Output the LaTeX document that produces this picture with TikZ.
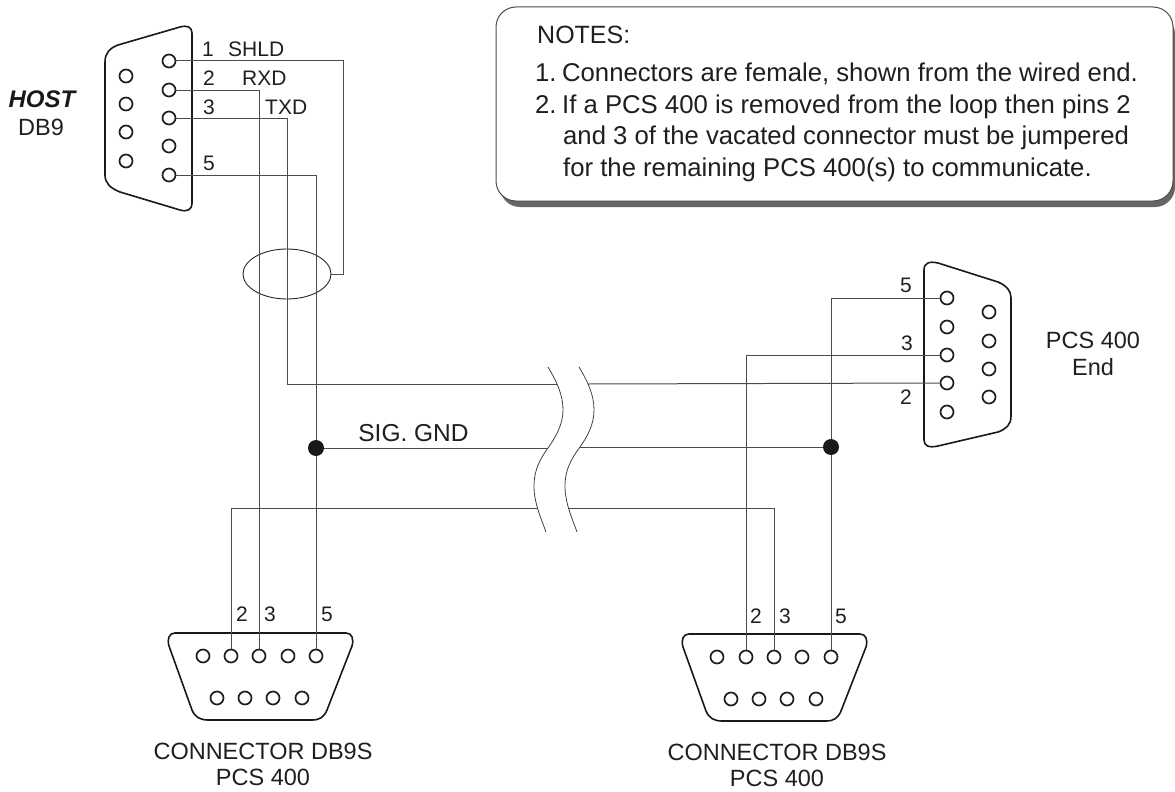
\documentclass[tikz,border=0pt]{standalone}
\usepackage{fontspec}
\setmainfont{Liberation Sans}
\usetikzlibrary{shapes.geometric}
\tikzset{
  pinhole/.style={circle,draw=black!88,line width=1.7pt,minimum size=13pt,inner sep=0pt,fill=white},
  shell/.style={draw=black!90,line width=1.6pt,line join=round},
  wire/.style={draw=black!70,line width=1pt},
  brk/.style={draw=black!75,line width=0.8pt},
  dotn/.style={circle,fill=black!90,minimum size=16pt,inner sep=0pt},
  lab/.style={font=\fontsize{21}{21}\selectfont,text=black!88,inner sep=0pt},
  captxt/.style={font=\fontsize{23.5}{26}\selectfont,text=black!88,align=center,inner sep=0pt},
  note/.style={font=\fontsize{25.7}{25}\selectfont,text=black!88,anchor=west,inner sep=0pt}
}
\begin{document}
\begin{tikzpicture}[x=1pt,y=-1pt]
\useasboundingbox (0,0) rectangle (1175,792);
% notes box
\fill[black!60,rounded corners=20pt] (500,14) rectangle (1175,207);
\draw[fill=white,draw=black!70,line width=1pt,rounded corners=20pt] (496,7) rectangle (1173,201);
\node[note,font=\fontsize{25}{25}\selectfont] (n0) at (537,35) {NOTES:};
\node[note] (n1) at (535,74) {1.\hspace{-4pt} Connectors are female, shown from the wired end.};
\node[note] (n2) at (535,107) {2.\hspace{-4pt} If a PCS 400 is removed from the loop then pins 2};
\node[note] (n3) at (563,138) {and 3 of the vacated connector must be jumpered};
\node[note] (n4) at (563,170) {for the remaining PCS 400(s) to communicate.};
% shells
\draw[shell] (105,170) -- (105,62) .. controls (105,53) and (110,48) .. (118,45) -- (180,27) .. controls (187,25) and (192,27) .. (192,33) -- (192,203) .. controls (192,210) and (187,212) .. (180,210) -- (120,192) .. controls (110,188) and (105,183) .. (105,175) -- cycle;
\draw[shell] (924,270) .. controls (924,263) and (929,261) .. (938,263) -- (998,282) .. controls (1007,286) and (1011,291) .. (1011,298) -- (1011,416) .. controls (1011,425) and (1006,429) .. (998,432) -- (938,446) .. controls (929,448) and (924,446) .. (924,440) -- cycle;
\draw[shell] (175,633) -- (346,633) .. controls (352,633) and (354,639) .. (352,646) -- (327,710) .. controls (324,717) and (320,720) .. (312,720) -- (208,720) .. controls (200,720) and (195,717) .. (192,710) -- (169,646) .. controls (167,639) and (169,633) .. (175,633) -- cycle;
\draw[shell] (689,634) -- (860,634) .. controls (866,634) and (868,640) .. (866,647) -- (841,711) .. controls (838,718) and (834,721) .. (826,721) -- (722,721) .. controls (714,721) and (709,718) .. (706,711) -- (683,647) .. controls (681,640) and (683,634) .. (689,634) -- cycle;
% coordinates
\coordinate (cA) at (343,274);
\coordinate (bTl) at (557,384); \coordinate (bTr) at (588,384);
\coordinate (bGl) at (548,448); \coordinate (bGr) at (580,447);
\coordinate (bRl) at (537,508); \coordinate (bRr) at (568,508);
\coordinate (tc) at (287,384);
\node[dotn] (d1) at (316,448) {};
\node[dotn] (d2) at (831,447) {};
% host pins
\foreach \n/\y in {a/76,b/104,c/132,d/161} \node[pinhole] (hl\n) at (126,\y) {};
\foreach \n/\y in {1/61,2/90,3/118,4/146,5/175} \node[pinhole] (h\n) at (169,\y) {};
% end pins
\foreach \n/\y in {5/298,4/327,3/355,2/383,1/412} \node[pinhole] (e\n) at (947,\y) {};
\foreach \n/\y in {a/312,b/341,c/369,d/397} \node[pinhole] (el\n) at (989,\y) {};
% bottom connectors
\foreach \n/\x in {1/203,2/231,3/259,4/288,5/316} \node[pinhole] (p\n) at (\x,656) {};
\foreach \n/\x in {a/217,b/245,c/273,d/302} \node[pinhole] (pl\n) at (\x,698) {};
\foreach \n/\x in {1/717,2/746,3/774,4/802,5/831} \node[pinhole] (q\n) at (\x,657) {};
\foreach \n/\x in {a/731,b/759,c/787,d/816} \node[pinhole] (ql\n) at (\x,699) {};
% shield
\node[ellipse,draw=black!85,line width=0.9pt,inner sep=0pt,minimum width=88pt,minimum height=50pt] (eln) at (287,274) {};
\draw[wire] (h1.east) -| (cA) -- (eln.east);
% RXD
\draw[wire] (h2.east) -| (p3.north);
% TXD
\draw[wire] (h3.east) -| (tc) -- (bTl);
\draw[wire] (bTr) -- (e2.west);
% ground
\draw[wire] (h5.east) -| (d1.north);
\draw[wire] (d1.south) -- (p5.north);
\draw[wire] (d1.east) -- (bGl);
\draw[wire] (bGr) -- (d2.west);
\draw[wire] (e5.west) -| (d2.north);
\draw[wire] (d2.south) -- (q5.north);
% pin 2 bus
\draw[wire] (p2.north) |- (bRl);
\draw[wire] (bRr) -| (q3.north);
% pcs 3
\draw[wire] (e3.west) -| (q2.north);
% breaks
\draw[brk] (548,367) .. controls (557,382) and (563,395) .. (563,410) .. controls (563,425) and (555,438) .. (548,448) .. controls (540,459) and (534,470) .. (534,486) .. controls (534,503) and (541,518) .. (546,532);
\draw[brk] (579,367) .. controls (588,382) and (594,395) .. (594,410) .. controls (594,425) and (587,437) .. (580,447) .. controls (571,459) and (565,470) .. (565,486) .. controls (565,503) and (572,518) .. (577,532);
% labels
\node[lab] (t1) at (208,49) {1};
\node[lab,anchor=west] (ts) at (228,49) {SHLD};
\node[lab] (t2) at (209,78) {2};
\node[lab,anchor=west] (tr) at (242,78) {RXD};
\node[lab] (t3) at (209,107) {3};
\node[lab,anchor=west] (tt) at (265,107) {TXD};
\node[lab] (t5) at (209,163) {5};
\node[font=\fontsize{24}{24}\selectfont\bfseries\itshape,text=black!90,inner sep=0pt] (host) at (42,99) {HOST};
\node[lab,font=\fontsize{23.5}{24}\selectfont] (db) at (41,127) {DB9};
\node[lab] (r5) at (906,285) {5};
\node[lab] (r3) at (907,343) {3};
\node[lab] (r2) at (906,397) {2};
\node[captxt,font=\fontsize{23.5}{27}\selectfont] (pe) at (1093,354) {PCS 400\\End};
\node[lab] (b2) at (242,614) {2};
\node[lab] (b3) at (270,614) {3};
\node[lab] (b5) at (327,614) {5};
\node[lab] (c2) at (756,616) {2};
\node[lab] (c3) at (785,616) {3};
\node[lab] (c5) at (841,616) {5};
\node[lab,font=\fontsize{24.5}{24}\selectfont] (sig) at (413.5,433) {SIG. GND};
\node[captxt] (k1) at (263,764) {CONNECTOR DB9S\\PCS 400};
\node[captxt] (k2) at (777,765) {CONNECTOR DB9S\\PCS 400};
\end{tikzpicture}
\end{document}
